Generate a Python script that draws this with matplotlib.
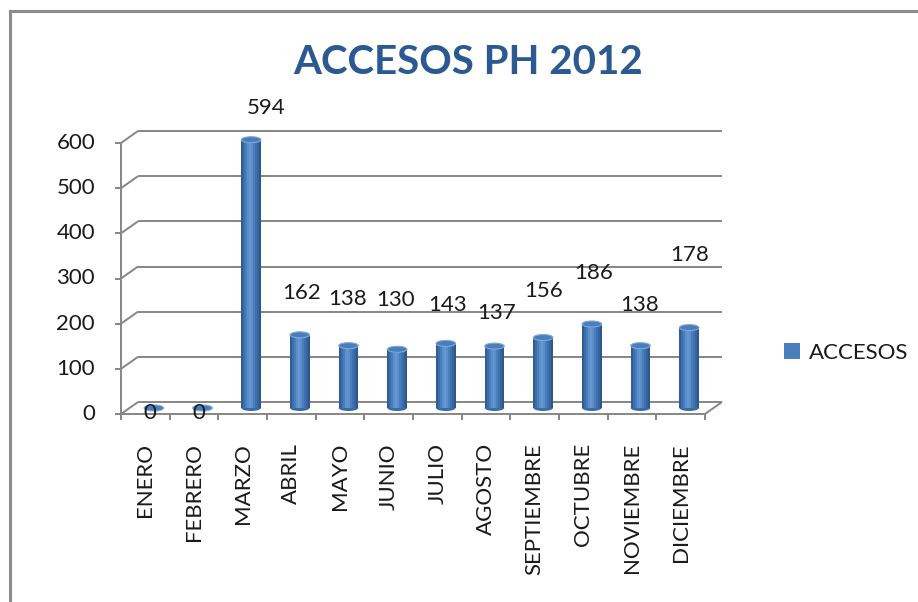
import numpy as np
import matplotlib
matplotlib.use("Agg")
import matplotlib.pyplot as plt
from matplotlib.patches import Ellipse
from matplotlib.lines import Line2D

plt.rcParams['font.family'] = ['Lato', 'DejaVu Sans']

months = ['ENERO', 'FEBRERO', 'MARZO', 'ABRIL', 'MAYO', 'JUNIO', 'JULIO',
          'AGOSTO', 'SEPTIEMBRE', 'OCTUBRE', 'NOVIEMBRE', 'DICIEMBRE']
accesos = [0, 0, 594, 162, 138, 130, 143, 137, 156, 186, 138, 178]
y_ticks = [0, 100, 200, 300, 400, 500, 600]

# where excel dropped the data labels (pixels, relative to bar top)
label_dx = [-4, -4, 15, 2, -1, -2, 2, 2, 0, 2, -1, 0]
label_dy = [-5, -5, 32, 42, 47, 49, 38, 33, 47, 51, 41, 73]

W, H = 918, 602
fig = plt.figure(figsize=(W / 100, H / 100), dpi=100)

# axes = mid-depth plane of the 3d chart
left_px, right_px, bot_px, top_px = 129.5, 713.5, 408, 137
ax = fig.add_axes([left_px / W, 1 - bot_px / H, (right_px - left_px) / W, (bot_px - top_px) / H])
ax.set_xlim(0, len(months))
ax.set_ylim(0, 600)
ax.axis('off')

px_x = (right_px - left_px) / len(months)   # pixels per category
px_y = (bot_px - top_px) / 600.0            # pixels per unit
dx = 8.5 / px_x                             # half depth, data units
dy = 6.0 / px_y

grid_c = '#868686'
n = len(months)
kw = dict(color=grid_c, lw=1.4, clip_on=False, solid_capstyle='butt')
fs = 16
txt_c = '#1a1a1a'

# back wall gridlines + diagonals to the front axis
for v in y_ticks:
    ax.plot([dx, n + dx], [v + dy, v + dy], **kw)
    ax.plot([-dx, dx], [v - dy, v + dy], **kw)
    ax.plot([-dx - 6 / px_x, -dx], [v - dy, v - dy], **kw)
    ax.annotate(str(v), xy=(-dx, v - dy), xytext=(-26, 0), textcoords='offset pixels',
                ha='right', va='center', fontsize=fs, color=txt_c, annotation_clip=False)

# front axis and floor
ax.plot([-dx, -dx], [-dy, 600 - dy], **kw)
ax.plot([-dx, n - dx], [-dy, -dy], **kw)
ax.plot([n - dx, n + dx], [-dy, dy], **kw)
for k in range(n + 1):
    ax.plot([k - dx, k - dx], [-dy, -dy - 6 / px_y], **kw)

# cylinders: shaded strips, caps
w = 0.4
xs = np.arange(n) + 0.5
shade = ['#2f5d96', '#3d6eaa', '#4a7ebb', '#5a8fcb', '#6398d3', '#5a8fcb',
         '#4a7ebb', '#3f71ad', '#35649e', '#2c5890']
sw = w / len(shade)
for j, c in enumerate(shade):
    off = -w / 2 + sw * (j + 0.5)
    ax.bar(xs + off, accesos, width=sw * 1.05, color=c, linewidth=0, zorder=3)
cap_h = 6.0 / px_y
for x, v in zip(xs, accesos):
    ax.add_patch(Ellipse((x, 0), w, cap_h, facecolor='#3a6ba8', edgecolor='none', zorder=2.9, clip_on=False))
    ax.add_patch(Ellipse((x, v), w, cap_h, facecolor='#4a7ebb', edgecolor='#7ea8db', lw=0.8, zorder=4, clip_on=False))

# data labels
for x, v, ddx, ddy in zip(xs, accesos, label_dx, label_dy):
    ax.annotate(str(v), xy=(x, v), xytext=(ddx, ddy), textcoords='offset pixels',
                ha='center', va='center', fontsize=fs, color=txt_c,
                annotation_clip=False, zorder=5)

# category labels
for k, m in enumerate(months):
    ax.annotate(m, xy=(k + 0.5 - dx, -dy), xytext=(0, -29), textcoords='offset pixels',
                ha='center', va='top', rotation=90, fontsize=fs, color=txt_c,
                annotation_clip=False)

fig.text(468 / W, 1 - 62 / H, 'ACCESOS PH 2012', ha='center', va='center',
         fontsize=29, fontweight='bold', color='#2b5a93')

handle = plt.Rectangle((0, 0), 1, 1, facecolor='#4a7ebb', edgecolor='none')
fig.legend([handle], ['ACCESOS'], loc='center left', bbox_to_anchor=(764 / W, 1 - 353 / H),
           frameon=False, fontsize=fs, handlelength=0.7, handleheight=0.7,
           handletextpad=0.4, labelcolor=txt_c)

# chart frame (cut at right and bottom)
fig.add_artist(Line2D([9.5 / W, 9.5 / W], [0, 1 - 10.5 / H], color='#8c8c8c', lw=2.2, transform=fig.transFigure))
fig.add_artist(Line2D([9.5 / W, 1], [1 - 10.5 / H, 1 - 10.5 / H], color='#8c8c8c', lw=2.2, transform=fig.transFigure))

fig.savefig('out.png', dpi=100)
